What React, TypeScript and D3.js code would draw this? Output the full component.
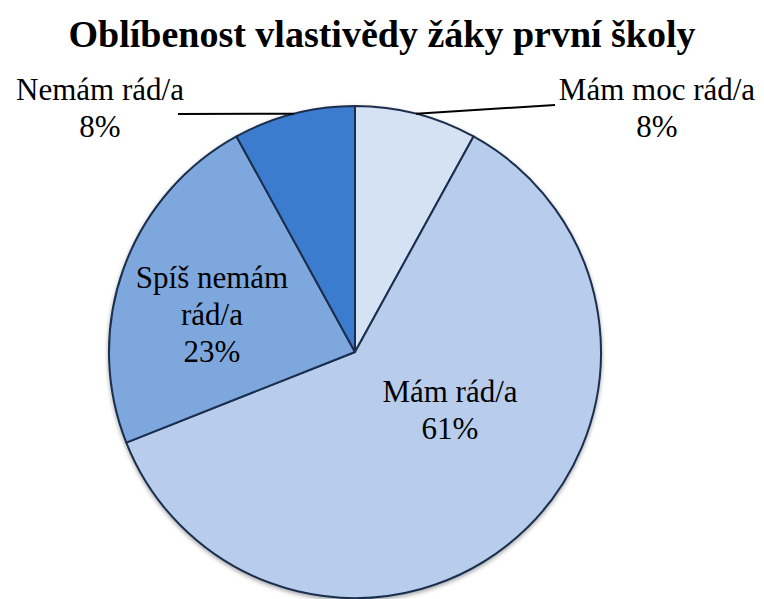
import React from 'react';
import * as d3 from 'd3';

// chart data
const categories = ['Mám moc rád/a', 'Mám rád/a', 'Spíš nemám rád/a', 'Nemám rád/a'];
const values = [8, 61, 23, 8];
const sliceColors = ['#d5e2f3', '#b7cdeb', '#7ea8dd', '#3b7cce'];

// label lines (wrapped text) for each category
const labelLines = [['Mám moc rád/a'], ['Mám rád/a'], ['Spíš nemám', 'rád/a'], ['Nemám rád/a']];

const width = 764;
const height = 599;
const cx = 355;
const cy = 352;
const radius = 246;

// where each label block is centred (first baseline) and whether it has a leader line
const labelLayout = [
  { x: 657, y: 100, leader: [555, 105] },
  { x: 450, y: 402, leader: null },
  { x: 212, y: 288, leader: null },
  { x: 100, y: 100, leader: [178, 114] },
];

const fontLabel = 'Liberation Serif, Tinos, Times New Roman, DejaVu Serif, serif';

const App = () => {
  const data = categories.map((c, i) => ({ category: c, value: values[i], i }));

  const pie = d3.pie<any>().value(d => d.value).sort(null);
  const arcs = pie(data);

  const arc = d3.arc<any>().innerRadius(0).outerRadius(radius);

  const lineH = 37;

  return (
    <svg width={width} height={height} style={{ position: 'absolute', left: 0, top: 0, background: '#fff' }}>
      <defs>
        <filter id="shadow" x="-10%" y="-10%" width="120%" height="120%">
          <feDropShadow dx="0" dy="2" stdDeviation="2" floodColor="#000" floodOpacity="0.35" />
        </filter>
      </defs>
      <text
        x={382}
        y={47}
        textAnchor="middle"
        fontFamily={fontLabel}
        fontWeight={700}
        fontSize={38}
        fill="#000"
      >
        Oblíbenost vlastivědy žáky první školy
      </text>

      <g transform={`translate(${cx},${cy})`}>
        <g filter="url(#shadow)">
          {arcs.map((a, i) => (
            <path key={i} d={arc(a) || ''} fill={sliceColors[i]} stroke="#1b2f4e" strokeWidth={2} strokeLinejoin="round" />
          ))}
        </g>
      </g>

      {arcs.map((a, i) => {
        const lay = labelLayout[i];
        const mid = (a.startAngle + a.endAngle) / 2;
        const edge = [cx + Math.sin(mid) * radius, cy - Math.cos(mid) * radius];
        const lines = [...labelLines[i], `${values[i]}%`];
        return (
          <g key={'l' + i}>
            {lay.leader && (
              <line
                x1={lay.leader[0]}
                y1={lay.leader[1]}
                x2={edge[0]}
                y2={edge[1]}
                stroke="#000"
                strokeWidth={2}
              />
            )}
            <text textAnchor="middle" fontFamily={fontLabel} fontSize={31} fill="#000">
              {lines.map((t, k) => (
                <tspan key={k} x={lay.x} y={lay.y + k * lineH}>{t}</tspan>
              ))}
            </text>
          </g>
        );
      })}
    </svg>
  );
};

export default App;
